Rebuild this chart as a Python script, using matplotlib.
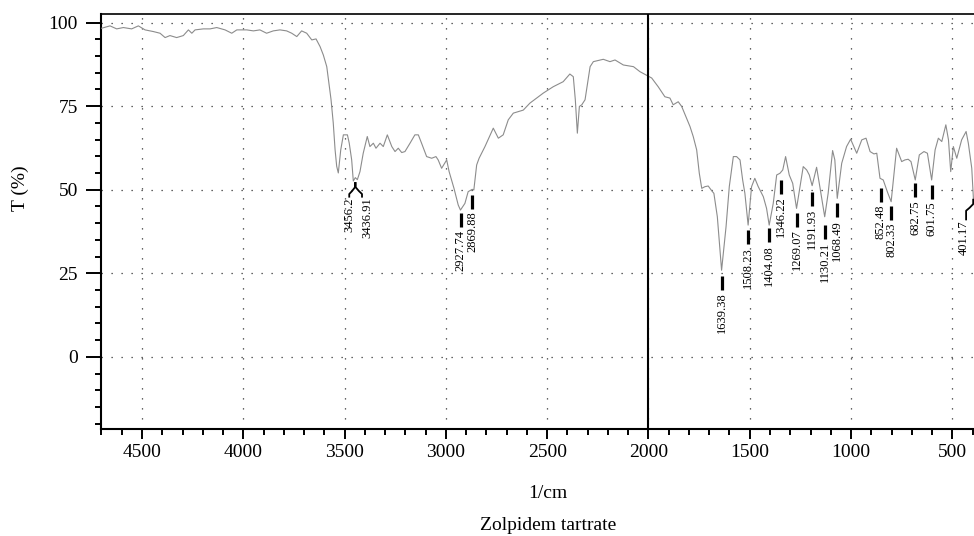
import numpy as np
import matplotlib
matplotlib.use("Agg")
import matplotlib.pyplot as plt
from matplotlib.ticker import MultipleLocator

plt.rcParams['font.family'] = ['Liberation Serif', 'DejaVu Serif']

# IR spectrum (wavenumber 1/cm, transmittance %)
wavenumber = [4699, 4658, 4625, 4592, 4551, 4518, 4485, 4444, 4411, 4386, 4362, 4329, 4296, 4271, 4254, 4238,
              4197, 4164, 4131, 4090, 4057, 4032, 3983, 3950, 3918, 3885, 3852, 3819, 3786, 3761, 3736, 3712,
              3687, 3662, 3641, 3621, 3605, 3588, 3580, 3567, 3556, 3547, 3539, 3531, 3519, 3506, 3486, 3477,
              3465, 3457, 3447, 3437, 3424, 3408, 3388, 3375, 3358, 3345, 3325, 3309, 3289, 3267, 3251, 3235,
              3218, 3202, 3177, 3153, 3136, 3120, 3095, 3070, 3049, 3038, 3021, 2996, 2984, 2960, 2939, 2928,
              2906, 2890, 2870, 2862, 2848, 2836, 2807, 2766, 2741, 2717, 2692, 2667, 2618, 2585, 2552, 2519,
              2470, 2421, 2388, 2371, 2361, 2351, 2341, 2329, 2313, 2288, 2272, 2223, 2190, 2165, 2124, 2074,
              2042, 1984, 1952, 1919, 1894, 1878, 1853, 1836, 1812, 1795, 1779, 1762, 1749, 1737, 1721, 1705,
              1688, 1677, 1660, 1639, 1617, 1601, 1581, 1565, 1548, 1535, 1524, 1508, 1491, 1475, 1458, 1433,
              1417, 1404, 1384, 1367, 1351, 1337, 1323, 1305, 1288, 1269, 1252, 1236, 1219, 1206, 1192, 1170,
              1154, 1130, 1113, 1091, 1080, 1068, 1046, 1022, 1002, 986, 972, 947, 926, 906, 887, 873,
              857, 841, 821, 802, 775, 750, 734, 718, 704, 683, 663, 640, 623, 602, 585, 569,
              552, 532, 519, 508, 495, 478, 454, 432, 421, 404, 396, 390]
transmittance = [98.3, 99.0, 98.1, 98.5, 98.1, 99.0, 97.8, 97.3, 96.8, 95.5, 96.1, 95.5, 96.1, 97.8, 96.8, 97.8,
                 98.1, 98.1, 98.5, 97.8, 96.8, 97.8, 97.8, 97.5, 97.8, 96.8, 97.5, 97.8, 97.5, 96.8, 95.8, 97.5,
                 96.8, 94.8, 95.1, 92.8, 90.3, 86.8, 83.0, 77.0, 70.0, 62.0, 57.0, 55.0, 61.9, 66.4, 66.4, 63.9,
                 58.9, 52.6, 53.6, 53.0, 55.4, 60.9, 65.9, 62.9, 63.9, 62.4, 63.9, 62.9, 66.4, 62.9, 61.4, 62.4,
                 61.1, 61.4, 63.9, 66.4, 66.4, 63.9, 59.9, 59.4, 59.9, 58.9, 56.4, 58.9, 55.4, 50.4, 45.4, 43.9,
                 45.9, 49.4, 50.1, 49.9, 57.4, 59.4, 62.9, 68.4, 65.4, 66.4, 70.9, 72.9, 73.8, 75.9, 77.4, 78.9,
                 80.8, 82.3, 84.6, 83.8, 76.9, 66.9, 74.9, 75.4, 76.9, 86.8, 88.3, 89.0, 88.3, 88.8, 87.3, 86.8,
                 85.3, 83.4, 80.8, 77.8, 77.4, 75.4, 76.3, 74.9, 71.4, 68.9, 65.9, 61.9, 54.9, 50.4, 50.9, 51.1,
                 49.7, 48.9, 41.9, 25.9, 38.9, 50.9, 59.9, 59.9, 58.9, 52.9, 48.9, 39.4, 50.9, 53.4, 50.9, 47.9,
                 44.4, 39.4, 45.9, 54.4, 54.9, 55.9, 59.9, 54.4, 51.9, 44.4, 50.9, 56.9, 55.9, 54.4, 51.2, 56.7,
                 50.9, 41.9, 48.9, 61.7, 58.9, 47.4, 57.9, 62.9, 65.1, 62.9, 60.9, 64.9, 65.4, 61.4, 60.7, 60.9,
                 53.4, 52.9, 49.4, 46.4, 62.4, 58.4, 58.9, 59.1, 58.4, 52.9, 60.4, 61.4, 60.9, 52.9, 61.9, 65.4,
                 64.4, 69.4, 64.9, 55.4, 62.9, 59.4, 64.9, 67.4, 63.9, 56.4, 47.4, 45.0]

# peak labels with a straight marker bar: label, bar top (T %)
bar_labels = ['2927.74', '2869.88', '1639.38', '1508.23', '1404.08', '1346.22', '1269.07',
              '1191.93', '1130.21', '1068.49', '852.48', '802.33', '682.75', '601.75']
bar_tops = [43.0, 48.4, 24.2, 37.9, 38.5, 52.9, 43.1, 49.4, 39.4, 46.0, 50.5, 45.1, 51.9, 51.4]

# peak labels with a bent connector
hook_labels = ['3456.2', '3436.91', '401.17']
hook_peak_wn = [3449, 3445, 397]
hook_peak_t = [52.0, 52.0, 47.0]
hook_end_wn = [3477, 3414, 432]
hook_text_wn = [3478, 3389, 446]
hook_text_t = [47.6, 47.6, 40.8]

fig = plt.figure(figsize=(9.74, 5.36), dpi=100)
ax = fig.add_axes([0.1042, 0.1996, 0.8958, 0.7752])

ax.plot(wavenumber, transmittance, color='#8c8c8c', linewidth=0.8, zorder=3)
ax.axvline(2000, color='black', linewidth=1.5, zorder=4)

for lab, top in zip(bar_labels, bar_tops):
    wn = float(lab)
    ax.plot([wn, wn], [top, top - 4.2], color='black', linewidth=2.3, solid_capstyle='butt', zorder=5)
    ax.text(wn, top - 5.0, lab, rotation=90, ha='center', va='top', fontsize=9)

for lab, pw, pt, ew, tw, tt in zip(hook_labels, hook_peak_wn, hook_peak_t, hook_end_wn,
                                   hook_text_wn, hook_text_t):
    ax.plot([pw, pw, (pw + ew) / 2, ew, ew], [pt, pt - 1.3, pt - 2.4, pt - 3.3, tt + 0.3],
            color='black', linewidth=1.3, zorder=5)
    ax.text(tw, tt, lab, rotation=90, ha='center', va='top', fontsize=9)

ax.set_xlim(4700, 393)
ax.set_ylim(-21.6, 102.7)
ax.xaxis.set_major_locator(MultipleLocator(500))
ax.xaxis.set_minor_locator(MultipleLocator(100))
ax.yaxis.set_major_locator(MultipleLocator(25))
ax.yaxis.set_minor_locator(MultipleLocator(5))

ax.grid(True, which='major', color='#333333', linewidth=0.9, linestyle=(0, (1, 7)))
ax.tick_params(axis='y', which='major', length=11, width=1.4, labelsize=14, pad=6)
ax.tick_params(axis='y', which='minor', length=4.5, width=1.4)
ax.tick_params(axis='x', which='major', length=7, width=1.4, labelsize=14, pad=4)
ax.tick_params(axis='x', which='minor', length=4, width=1.4)

ax.spines['left'].set_linewidth(1.5)
ax.spines['bottom'].set_linewidth(1.5)
ax.spines['top'].set_linewidth(1.2)
ax.spines['right'].set_visible(False)

fig.text(20 / 974, 1 - 188 / 536, 'T (%)', rotation=90, ha='center', va='center', fontsize=14)
fig.text(548 / 974, 1 - 493 / 536, '1/cm', ha='center', va='center', fontsize=14)
fig.text(548 / 974, 1 - 526 / 536, 'Zolpidem tartrate', ha='center', va='center', fontsize=14)

fig.savefig('out.png', dpi=100)
